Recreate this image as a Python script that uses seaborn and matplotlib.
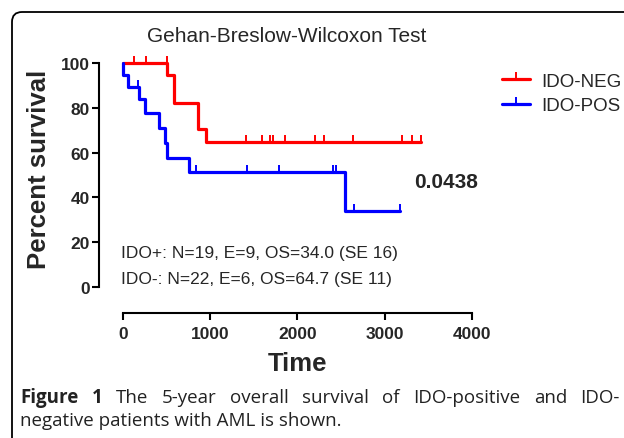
import numpy as np
import pandas as pd
import seaborn as sns
import matplotlib.pyplot as plt
from matplotlib.path import Path
from matplotlib.lines import Line2D
from matplotlib.patches import FancyBboxPatch

# step curves (time, percent survival)
neg_times = [0, 508, 581, 864, 948, 3414]
neg_surv = [100, 94.7, 82.3, 70.4, 64.7, 64.7]
pos_times = [0, 5, 54, 183, 252, 413, 482, 500, 757, 2546, 3177]
pos_surv = [100, 94.7, 89.5, 83.9, 77.5, 71.0, 64.5, 57.8, 51.4, 34.0, 34.0]

# censor ticks
neg_cens_t = [126, 260, 500, 1407, 1590, 1686, 1724, 1858, 2202, 2305, 2641, 3203, 3318, 3414]
neg_cens_s = [100, 100, 100, 64.7, 64.7, 64.7, 64.7, 64.7, 64.7, 64.7, 64.7, 64.7, 64.7, 64.7]
pos_cens_t = [168, 837, 1426, 1789, 2412, 2439, 2653, 3177]
pos_cens_s = [89.5, 51.4, 51.4, 51.4, 51.4, 51.4, 34.0, 34.0]

groups = ['IDO-NEG', 'IDO-POS']
colors = {'IDO-NEG': '#ff0000', 'IDO-POS': '#0000ff'}
xticks = [0, 1000, 2000, 3000, 4000]
yticks = [0, 20, 40, 60, 80, 100]

caption1 = 'Figure 1 The 5-year overall survival of IDO-positive and IDO-'
caption2 = 'negative patients with AML is shown.'

curves = pd.concat([
    pd.DataFrame({'time': neg_times, 'surv': neg_surv, 'group': 'IDO-NEG'}),
    pd.DataFrame({'time': pos_times, 'surv': pos_surv, 'group': 'IDO-POS'}),
])
cens = pd.concat([
    pd.DataFrame({'time': neg_cens_t, 'surv': neg_cens_s, 'group': 'IDO-NEG'}),
    pd.DataFrame({'time': pos_cens_t, 'surv': pos_cens_s, 'group': 'IDO-POS'}),
])

sns.set_style('white')
plt.rcParams['font.family'] = ['Liberation Sans', 'DejaVu Sans']

tick = Path([(0, 0), (0, 1)], [Path.MOVETO, Path.LINETO])

fig = plt.figure(figsize=(6.24, 4.39), dpi=100)
ax = fig.add_axes([123 / 624, 151 / 439, 348.7 / 624, 224 / 439])

sns.lineplot(data=curves, x='time', y='surv', hue='group', palette=colors,
             estimator=None, sort=False, drawstyle='steps-post', linewidth=2.3,
             legend=False, clip_on=False, ax=ax)
for g in groups:
    d = cens[cens['group'] == g]
    ax.plot(d['time'], d['surv'], ls='none', marker=tick, markersize=10,
            markeredgewidth=1.4, color=colors[g], clip_on=False)

ax.set_xlim(0, 4000)
ax.set_ylim(0, 100)
ax.set_xticks(xticks)
ax.set_yticks(yticks)
for s in ['top', 'right']:
    ax.spines[s].set_visible(False)
ax.spines['left'].set_position(('outward', 17))
ax.spines['bottom'].set_position(('outward', 19))
for s in ['left', 'bottom']:
    ax.spines[s].set_linewidth(1.5)
    ax.spines[s].set_color('black')
ax.tick_params(axis='both', direction='out', length=5, width=1.5, color='black',
               labelsize=12.5, pad=2, left=True, bottom=True)
ax.tick_params(axis='x', pad=4)
for lab in ax.get_xticklabels() + ax.get_yticklabels():
    lab.set_fontweight('bold')

ax.set_xlabel('Time', fontsize=18.5, fontweight='bold', labelpad=7)
ax.set_ylabel('Percent survival', fontsize=18.5, fontweight='bold', labelpad=7)
ax.yaxis.label.set_y(0.53)
fig.text(287 / 624, 1 - 37 / 439, 'Gehan-Breslow-Wilcoxon Test', fontsize=15,
         ha='center', va='center')

ax.text(-20, 15.2, 'IDO+: N=19, E=9, OS=34.0 (SE 16)', fontsize=12.5, va='center')
ax.text(-20, 3.6, 'IDO-: N=22, E=6, OS=64.7 (SE 11)', fontsize=12.5, va='center')
ax.text(3340, 47, '0.0438', fontsize=15, fontweight='bold', va='center')

handles = [Line2D([], [], color=colors[g], lw=2.3, marker=tick, markersize=10,
                  markeredgewidth=1.4) for g in groups]
fig.legend(handles, groups, loc='upper left', bbox_to_anchor=(494 / 624, 1 - 66 / 439),
           frameon=False, fontsize=13.5, handlelength=1.5, handletextpad=0.6,
           labelspacing=0.4, borderaxespad=0)

# rounded panel frame
fig.add_artist(FancyBboxPatch((0.12, -0.5), 7, 4.76, boxstyle='round,pad=0,rounding_size=0.1',
                              transform=fig.dpi_scale_trans, fill=False, lw=1.3,
                              edgecolor='black'))

# justified first caption line, word by word
cap_size = 13.5
words = caption1.split()
fig.canvas.draw()
rend = fig.canvas.get_renderer()
objs = []
for i, w in enumerate(words):
    t = fig.text(0, 1 - 398 / 439, w, fontsize=cap_size, va='center', family='Open Sans',
                 fontweight='bold' if i < 2 else 'normal', color='#222222')
    objs.append(t)
widths = [t.get_window_extent(rend).width for t in objs]
gap = (600 - sum(widths)) / (len(words) - 1)
x = 20
for t, wd in zip(objs, widths):
    t.set_x(x / 624)
    x += wd + gap
fig.text(20 / 624, 1 - 421 / 439, caption2, fontsize=cap_size, va='center',
         family='Open Sans', color='#222222')

fig.savefig('out.png', dpi=100)
